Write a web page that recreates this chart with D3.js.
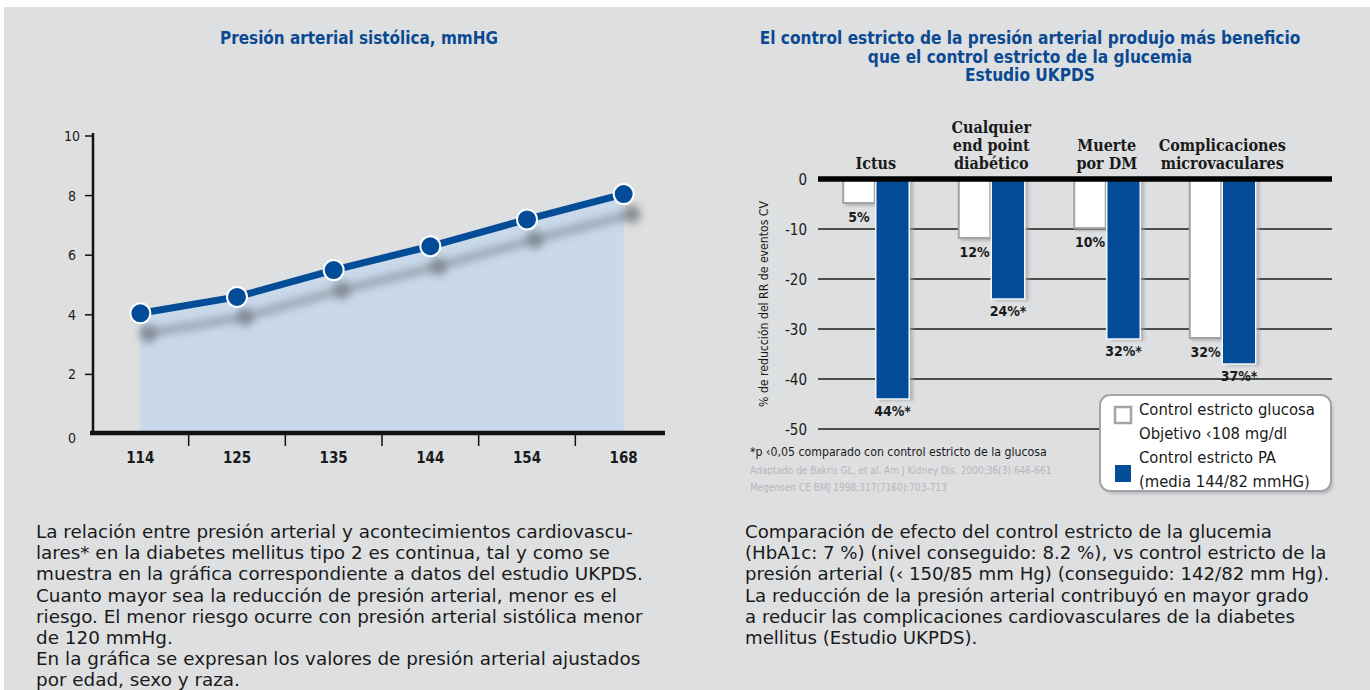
<!DOCTYPE html>
<html>
<head>
<meta charset="utf-8">
<script src="https://cdn.jsdelivr.net/npm/d3@7"></script>
<style>
  html, body { margin: 0; padding: 0; background: #fff; }
  svg { display: block; }
</style>
</head>
<body>
<div id="chart"></div>
<script>
// Datos del gráfico izquierdo (presión sistólica vs. riesgo)
const pasLabels = ["114", "125", "135", "144", "154", "168"];
const pasValues = [4.05, 4.6, 5.5, 6.3, 7.2, 8.05];
const pasTicks = [0, 2, 4, 6, 8, 10];

// Datos del gráfico derecho (UKPDS)
const ukCategories = ["Ictus", "Cualquier end point diabético", "Muerte por DM", "Complicaciones microvaculares"];
const ukCatLines = [["Ictus"], ["Cualquier", "end point", "diabético"], ["Muerte", "por DM"], ["Complicaciones", "microvaculares"]];
const ukGlucosa = [-5, -12, -10, -32];
const ukPA = [-44, -24, -32, -37];
const ukGlucosaLabels = ["5%", "12%", "10%", "32%"];
const ukPALabels = ["44%*", "24%*", "32%*", "37%*"];
const ukTicks = [0, -10, -20, -30, -40, -50];

const W = 1370, H = 690;
const blue = "#034c98";
const sans = "'DejaVu Sans Condensed', 'DejaVu Sans', sans-serif";
const body = "'DejaVu Sans', sans-serif";

const svg = d3.select("#chart").append("svg").attr("width", W).attr("height", H);

// ajusta el tamaño de letra para que la primera línea mida "target" px
function fitSize(sel, target) {
  const s0 = parseFloat(sel.attr("font-size"));
  const w = sel.node().getComputedTextLength();
  sel.attr("font-size", (s0 * target / w).toFixed(2));
}

// fondo gris
svg.append("rect").attr("x", 4).attr("y", 7).attr("width", W - 4).attr("height", H - 7).attr("fill", "#dedfe1");

const defs = svg.append("defs");
defs.append("filter").attr("id", "blur").attr("x", "-20%").attr("y", "-50%").attr("width", "140%").attr("height", "200%")
  .append("feGaussianBlur").attr("stdDeviation", 4.5);
defs.append("filter").attr("id", "soft").attr("x", "-20%").attr("y", "-20%").attr("width", "140%").attr("height", "140%")
  .append("feGaussianBlur").attr("stdDeviation", 1.5);

// ---------- gráfico izquierdo ----------
svg.append("text").attr("x", 359).attr("y", 44).attr("text-anchor", "middle")
  .attr("font-family", sans).attr("font-weight", "bold").attr("font-size", 17).attr("fill", "#0b4a92")
  .text("Presión arterial sistólica, mmHG")
  .call(fitSize, 278);

const x = d3.scaleBand().domain(pasLabels).range([92, 672]);
const y = d3.scaleLinear().domain([0, 10]).range([434, 136]);
const cx = d => x(d) + x.bandwidth() / 2;
const pts = pasLabels.map((l, i) => [cx(l), y(pasValues[i])]);

const left = svg.append("g");

left.append("path")
  .datum(pts)
  .attr("fill", "#c9d9ea")
  .attr("d", d3.area().x(d => d[0]).y0(y(0)).y1(d => d[1]));

// sombra de la línea
const shadow = left.append("g").attr("filter", "url(#blur)").attr("transform", "translate(8,20)").attr("opacity", 0.6);
shadow.append("path").datum(pts).attr("fill", "none").attr("stroke", "#6b7078").attr("stroke-width", 7)
  .attr("d", d3.line());
shadow.selectAll("circle").data(pts).join("circle")
  .attr("cx", d => d[0]).attr("cy", d => d[1]).attr("r", 9).attr("fill", "#50545a");

left.append("path").datum(pts).attr("fill", "none").attr("stroke", blue).attr("stroke-width", 7)
  .attr("d", d3.line());
left.selectAll("circle.pt").data(pts).join("circle").attr("class", "pt")
  .attr("cx", d => d[0]).attr("cy", d => d[1]).attr("r", 10)
  .attr("fill", blue).attr("stroke", "#fff").attr("stroke-width", 2);

// ejes
left.append("line").attr("x1", 93).attr("x2", 93).attr("y1", 133).attr("y2", 434)
  .attr("stroke", "#111").attr("stroke-width", 2.5);
left.append("line").attr("x1", 90).attr("x2", 665).attr("y1", 433).attr("y2", 433)
  .attr("stroke", "#111").attr("stroke-width", 4.5);
left.selectAll("line.yt").data(pasTicks.filter(t => t > 0)).join("line").attr("class", "yt")
  .attr("x1", 85).attr("x2", 93).attr("y1", d => y(d)).attr("y2", d => y(d))
  .attr("stroke", "#111").attr("stroke-width", 1.5);
left.selectAll("text.yl").data(pasTicks).join("text").attr("class", "yl")
  .attr("x", 72).attr("y", d => y(d) + 5 + (d === 0 ? 4 : 0)).attr("text-anchor", "middle")
  .attr("font-family", sans).attr("font-size", 14).attr("fill", "#1a1a1a").text(d => d);
left.selectAll("line.xt").data(pasLabels.slice(1)).join("line").attr("class", "xt")
  .attr("x1", d => x(d)).attr("x2", d => x(d)).attr("y1", 435).attr("y2", 446)
  .attr("stroke", "#111").attr("stroke-width", 1.5);
left.selectAll("text.xl").data(pasLabels).join("text").attr("class", "xl")
  .attr("x", d => cx(d)).attr("y", 463).attr("text-anchor", "middle")
  .attr("font-family", sans).attr("font-weight", "bold").attr("font-size", 15).attr("fill", "#1a1a1a").text(d => d);

// ---------- gráfico derecho ----------
const titleLines = ["El control estricto de la presión arterial produjo más beneficio", "que el control estricto de la glucemia", "Estudio UKPDS"];
const rt = svg.append("g").selectAll("text").data(titleLines).join("text")
  .attr("x", 1030).attr("y", (d, i) => 44 + i * 18.5).attr("text-anchor", "middle")
  .attr("font-family", sans).attr("font-weight", "bold").attr("font-size", 17).attr("fill", "#0b4a92")
  .text(d => d);
fitSize(d3.select(rt.nodes()[0]), 541);
rt.attr("font-size", d3.select(rt.nodes()[0]).attr("font-size"));

const x0 = d3.scaleBand().domain(ukCategories).range([818, 1280]);
const x1 = d3.scaleBand().domain(["glucosa", "pa"]).range([-33.5, 33.5]);
const yr = d3.scaleLinear().domain([-50, 0]).range([429, 179]);
const gc = d => x0(d) + x0.bandwidth() / 2;

const right = svg.append("g");

right.selectAll("line.grid").data(ukTicks.filter(t => t < 0)).join("line").attr("class", "grid")
  .attr("x1", 818).attr("x2", 1332).attr("y1", d => yr(d)).attr("y2", d => yr(d))
  .attr("stroke", "#1a1a1a").attr("stroke-width", 1.4);
right.selectAll("text.yl").data(ukTicks).join("text").attr("class", "yl")
  .attr("x", 807).attr("y", d => yr(d) + 6).attr("text-anchor", "end")
  .attr("font-family", sans).attr("font-size", 15).attr("fill", "#1a1a1a").text(d => d);
right.append("text")
  .attr("transform", "translate(768,304) rotate(-90)").attr("text-anchor", "middle")
  .attr("font-family", sans).attr("font-size", 12).attr("fill", "#1a1a1a")
  .text("% de reducción del RR de eventos CV")
  .call(fitSize, 206);

const groups = right.selectAll("g.grp").data(ukCategories).join("g").attr("class", "grp")
  .attr("transform", d => `translate(${gc(d)},0)`);

// sombras de las barras
groups.append("rect").attr("x", x1("glucosa") + 3).attr("y", yr(0))
  .attr("width", x1.bandwidth()).attr("height", (d, i) => yr(ukGlucosa[i]) - yr(0) + 2)
  .attr("fill", "#9a9ca0").attr("opacity", 0.6).attr("filter", "url(#soft)");
groups.append("rect").attr("x", x1("pa") + 4).attr("y", yr(0))
  .attr("width", x1.bandwidth()).attr("height", (d, i) => yr(ukPA[i]) - yr(0) + 2)
  .attr("fill", "#9a9ca0").attr("opacity", 0.6).attr("filter", "url(#soft)");

groups.append("rect").attr("x", x1("glucosa") + 1).attr("y", yr(0))
  .attr("width", x1.bandwidth() - 2).attr("height", (d, i) => yr(ukGlucosa[i]) - yr(0) - 1)
  .attr("fill", "#fff").attr("stroke", "#a3a4a7").attr("stroke-width", 2);
groups.append("rect").attr("x", x1("pa")).attr("y", yr(0))
  .attr("width", x1.bandwidth()).attr("height", (d, i) => yr(ukPA[i]) - yr(0))
  .attr("fill", blue).attr("stroke", "#f4f6f9").attr("stroke-width", 1.5);

const lblStyle = s => s.attr("text-anchor", "middle").attr("font-family", sans)
  .attr("font-weight", "bold").attr("font-size", 14).attr("fill", "#1a1a1a");
groups.append("text").attr("x", x1("glucosa") + x1.bandwidth() / 2)
  .attr("y", (d, i) => yr(ukGlucosa[i]) + 18).call(lblStyle).text((d, i) => ukGlucosaLabels[i]);
groups.append("text").attr("x", x1("pa") + x1.bandwidth() / 2)
  .attr("y", (d, i) => yr(ukPA[i]) + 17).call(lblStyle).text((d, i) => ukPALabels[i]);

// nombres de categorías
groups.each(function (d, i) {
  const ls = ukCatLines[i];
  d3.select(this).selectAll("text.cat").data(ls).join("text").attr("class", "cat")
    .attr("x", 0).attr("y", (l, j) => 169 - (ls.length - 1 - j) * 18).attr("text-anchor", "middle")
    .attr("font-family", "'DejaVu Serif Condensed', 'DejaVu Serif', serif").attr("font-weight", "bold")
    .attr("font-size", 16).attr("fill", "#1a1a1a").text(l => l);
});

// línea del cero
right.append("line").attr("x1", 818).attr("x2", 1332).attr("y1", yr(0)).attr("y2", yr(0))
  .attr("stroke", "#000").attr("stroke-width", 5.5);

// notas
right.append("text").attr("x", 750).attr("y", 456)
  .attr("font-family", sans).attr("font-size", 12).attr("fill", "#1a1a1a")
  .text("*p ‹0,05 comparado con control estricto de la glucosa")
  .call(fitSize, 297);
right.selectAll("text.src").data(["Adaptado de Bakris GL, et al. Am J Kidney Dis. 2000;36(3):646-661", "Megensen CE BMJ 1998;317(7160):703-713"])
  .join("text").attr("class", "src").attr("x", 750).attr("y", (d, i) => 474 + i * 17)
  .attr("font-family", sans).attr("font-size", 10).attr("fill", "#b5b7ba").text(d => d);

// leyenda
const leg = right.append("g");
leg.append("rect").attr("x", 1103).attr("y", 398).attr("width", 230).attr("height", 96).attr("rx", 10)
  .attr("fill", "#9ea0a4").attr("opacity", 0.6).attr("filter", "url(#soft)");
leg.append("rect").attr("x", 1100).attr("y", 395).attr("width", 231).attr("height", 96).attr("rx", 10)
  .attr("fill", "#fff").attr("stroke", "#a3a4a7").attr("stroke-width", 2);
leg.append("rect").attr("x", 1115).attr("y", 407).attr("width", 16).attr("height", 16)
  .attr("fill", "#fff").attr("stroke", "#a3a4a7").attr("stroke-width", 2.5);
leg.append("rect").attr("x", 1115).attr("y", 465).attr("width", 16).attr("height", 17)
  .attr("fill", blue);
const legTexts = leg.selectAll("text").data(["Control estricto glucosa", "Objetivo ‹108 mg/dl", "Control estricto PA", "(media 144/82 mmHG)"])
  .join("text").attr("x", 1139).attr("y", (d, i) => 415 + i * 24)
  .attr("font-family", sans).attr("font-size", 16).attr("fill", "#1a1a1a").text(d => d);
fitSize(d3.select(legTexts.nodes()[0]), 176);
legTexts.attr("font-size", d3.select(legTexts.nodes()[0]).attr("font-size"));

// ---------- textos inferiores ----------
const leftPara = [
  "La relación entre presión arterial y acontecimientos cardiovascu-",
  "lares* en la diabetes mellitus tipo 2 es continua, tal y como se",
  "muestra en la gráfica correspondiente a datos del estudio UKPDS.",
  "Cuanto mayor sea la reducción de presión arterial, menor es el",
  "riesgo. El menor riesgo ocurre con presión arterial sistólica menor",
  "de 120 mmHg.",
  "En la gráfica se expresan los valores de presión arterial ajustados",
  "por edad, sexo y raza."
];
const rightPara = [
  "Comparación de efecto del control estricto de la glucemia",
  "(HbA1c: 7 %) (nivel conseguido: 8.2 %), vs control estricto de la",
  "presión arterial (‹ 150/85 mm Hg) (conseguido: 142/82 mm Hg).",
  "La reducción de la presión arterial contribuyó en mayor grado",
  "a reducir las complicaciones cardiovasculares de la diabetes",
  "mellitus (Estudio UKPDS)."
];
function para(lines, x0p, target) {
  const t = svg.append("g").selectAll("text").data(lines).join("text")
    .attr("x", x0p).attr("y", (d, i) => 538 + i * 21.2)
    .attr("font-family", body).attr("font-size", 17).attr("fill", "#1a1a1a").text(d => d);
  fitSize(d3.select(t.nodes()[0]), target);
  t.attr("font-size", d3.select(t.nodes()[0]).attr("font-size"));
}
para(leftPara, 36, 597);
para(rightPara, 745, 527);
</script>
</body>
</html>
